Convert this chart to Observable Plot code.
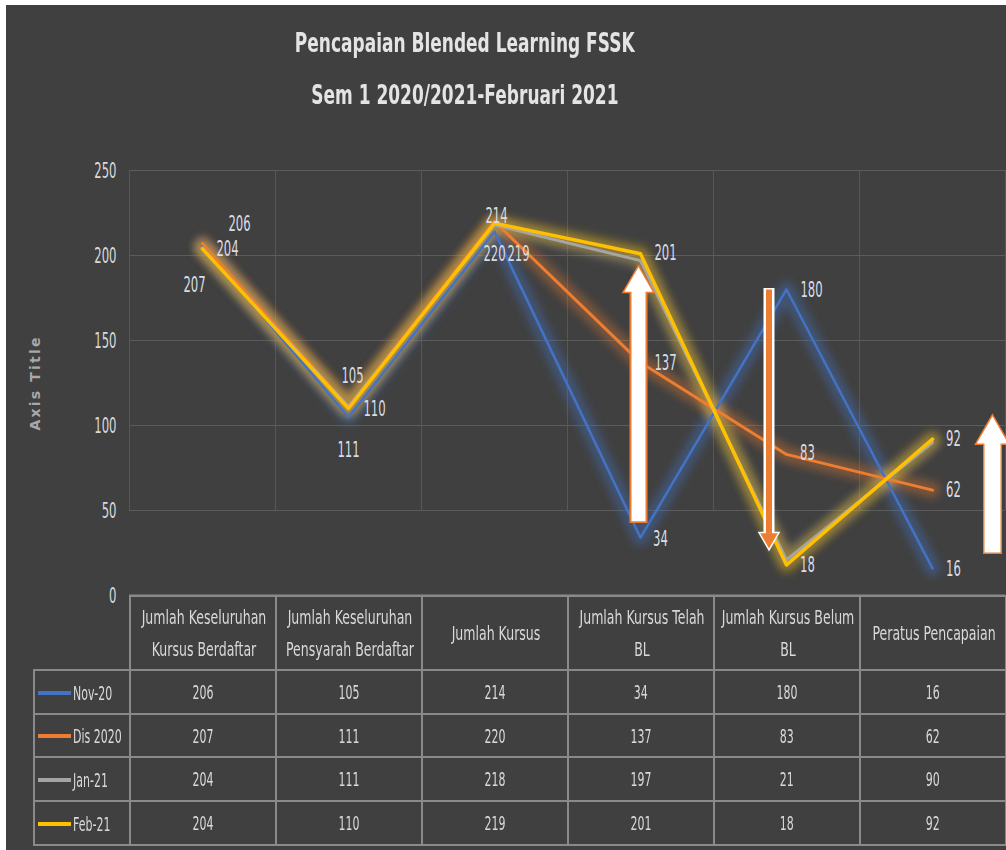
<!DOCTYPE html>
<html><head><meta charset="utf-8">
<script src="https://cdn.jsdelivr.net/npm/d3@7"></script>
<script src="https://cdn.jsdelivr.net/npm/@observablehq/plot@0.6"></script>
<style>
body{margin:0;background:#fff;}
#wrap{position:relative;width:1006px;height:850px;background:#fff;overflow:hidden;}
#bg{position:absolute;left:6px;top:5px;right:0;bottom:0;background:#404040;}
#title{position:absolute;left:0;top:17px;width:930px;text-align:center;color:#e4e4e4;
  font:bold 27px "DejaVu Sans",sans-serif;line-height:52px;}
#title span{display:inline-block;transform:scaleX(0.63);white-space:nowrap;}
#plot{position:absolute;left:0;top:150px;}
#tbl{position:absolute;left:33px;top:595px;border-collapse:collapse;color:#d9d9d9;
  font-family:"DejaVu Sans",sans-serif;table-layout:fixed;width:972px;}
#tbl td{border:2px solid #8a8a8a;text-align:center;padding:0;}
#tbl tr.head td{height:72px;font-size:19px;line-height:32px;}
#tbl tr.row td{height:41.7px;font-size:20px;}
#tbl td.blank{border-left:none;border-top:none;}
#tbl td.leg{text-align:left;padding:0 0 0 3px;white-space:nowrap;}
#tbl td.leg span.sw{display:inline-block;width:33px;height:4px;vertical-align:middle;margin-right:2px;}
#tbl td.leg span.lab{display:inline-block;transform:scaleX(0.55);transform-origin:left center;vertical-align:middle;}
#tbl .val{display:inline-block;transform:scaleX(0.55);white-space:nowrap;}
#tbl .hd{display:block;width:210px;margin-left:-32px;transform:scaleX(0.66);text-align:center;}
</style></head><body>
<div id="wrap"><div id="bg"></div>
<div id="title"></div>
<div id="plot"></div>
<table id="tbl"></table>
</div>
<script>
const titleLines = ["Pencapaian Blended Learning FSSK", "Sem 1 2020/2021-Februari 2021"];
const categories = ["Jumlah Keseluruhan Kursus Berdaftar", "Jumlah Keseluruhan Pensyarah Berdaftar", "Jumlah Kursus", "Jumlah Kursus Telah BL", "Jumlah Kursus Belum BL", "Peratus Pencapaian"];
const seriesNames = ["Nov-20", "Dis 2020", "Jan-21", "Feb-21"];
const seriesColors = ["#4472C4", "#ED7D31", "#A5A5A5", "#FFC000"];
const nov20 = [206, 105, 214, 34, 180, 16];
const dis2020 = [207, 111, 220, 137, 83, 62];
const jan21 = [204, 111, 218, 197, 21, 90];
const feb21 = [204, 110, 219, 201, 18, 92];
const yTicks = [0, 50, 100, 150, 200, 250];
const yAxisTitle = "Axis Title";

const seriesValues = [nov20, dis2020, jan21, feb21];
const FONT = '"DejaVu Sans",sans-serif';
const SQUEEZE = 0.53;

// label placement (series index, category index, dx, dy) – styling only
const labelOffsets = [
  [0,0,37,-21],[1,0,-8,41],[3,0,25,0],
  [0,1,4,-41],[3,1,26,0],[1,1,0,43],
  [0,2,2,-16],[1,2,0,32],[3,2,24,31],
  [3,3,25,-1],[1,3,25,0],[0,3,20,1],
  [0,4,25,0],[1,4,21,-1],[3,4,21,0],
  [3,5,21,0],[1,5,21,0],[0,5,21,1]
];

// block-arrow annotations (category index, tail value, head base value)
const arrowCat = [3, 4, 5];
const arrowTail = [42.4, 180.6, 24.1];
const arrowHeadBase = [178.2, 37, 89];
const arrowStyle = [
  {dx:-2, outer:18, inner:14, head:31, fill:"#ffffff", stroke:"#ED7D31", up:true},
  {dx:-17.5, outer:11, inner:6, head:20, fill:"#ED7D31", stroke:"#ffffff", up:false},
  {dx:60, outer:19, inner:16, head:34, fill:"#ffffff", stroke:"#ED7D31", up:true}
];

// title
d3.select("#title").selectAll("div").data(titleLines).join("div").append("span").text(d => d);

const rows = seriesValues.flatMap((vals, si) => categories.map((c, ci) => ({series: seriesNames[si], si, cat: c, ci, value: vals[ci]})));

const marks = [];
// gridlines
marks.push(Plot.ruleY(yTicks.filter(d => d > 0), {stroke: "#5c5c5c", strokeWidth: 1}));
marks.push(Plot.ruleX(categories, {x: d => d, dx: -73, y1: 50, y2: 250, stroke: "#575757", strokeWidth: 1}));
marks.push(Plot.ruleX([categories[categories.length - 1]], {x: d => d, dx: 73, y1: 50, y2: 250, stroke: "#575757", strokeWidth: 1}));
marks.push(Plot.ruleY([0], {stroke: "#8a8a8a", strokeWidth: 2}));
// glows
const glowOpacity = [0.4, 0.35, 0.3, 0.35];
seriesNames.forEach((s, si) => {
  marks.push(Plot.line(rows.filter(d => d.si === si), {x: "cat", y: "value", stroke: seriesColors[si], strokeWidth: 16, strokeOpacity: glowOpacity[si], strokeLinejoin: "round"}));
});
// lines
const lineWidths = [2.5, 3, 3, 3.5];
seriesNames.forEach((s, si) => {
  marks.push(Plot.line(rows.filter(d => d.si === si), {x: "cat", y: "value", stroke: seriesColors[si], strokeWidth: lineWidths[si]}));
});
// arrows
arrowCat.forEach((ci, i) => {
  const st = arrowStyle[i];
  const d = [{cat: categories[ci], tail: arrowTail[i], base: arrowHeadBase[i]}];
  const half = st.head / (2 * Math.sqrt(3));
  marks.push(Plot.ruleX(d, {x: "cat", y1: "tail", y2: "base", dx: st.dx, stroke: st.stroke, strokeWidth: st.outer}));
  marks.push(Plot.dot(d, {x: "cat", y: "base", dx: st.dx, dy: st.up ? -half : half, symbol: "triangle", r: st.head * 0.3713, rotate: st.up ? 0 : 180, fill: st.fill, stroke: st.stroke, strokeWidth: 1.5}));
  marks.push(Plot.ruleX(d, {x: "cat", y1: "tail", y2: "base", dx: st.dx, dy: st.up ? -1.6 : 1.6, stroke: st.fill, strokeWidth: st.inner}));
});
// data labels
labelOffsets.forEach(([si, ci, dx, dy]) => {
  const d = [{cat: categories[ci], value: seriesValues[si][ci]}];
  marks.push(Plot.text(d, {x: "cat", y: "value", text: d => String(d.value), dx, dy, fill: "#d9dde3", fontSize: 22, textAnchor: "middle"}));
});
// axes
marks.push(Plot.axisY({ticks: yTicks, tickSize: 0, tickPadding: 13, fontSize: 22, fill: "#d9d9d9"}));
marks.push(Plot.text([yAxisTitle], {frameAnchor: "left", textAnchor: "middle", dx: -94, rotate: -90, fontWeight: "bold", fontSize: 14, fill: "#a8a8a8", text: d => d}));

const chart = Plot.plot({
  width: 1006, height: 450,
  marginLeft: 129, marginRight: 1, marginTop: 20, marginBottom: 5,
  style: {background: "transparent", color: "#d9d9d9", fontFamily: FONT, fontSize: "22px", overflow: "visible"},
  x: {type: "point", domain: categories, padding: 0.5, axis: null},
  y: {domain: [0, 250], axis: null},
  marks
});
document.getElementById("plot").appendChild(chart);
// blur the glow layers
const lineGroups = chart.querySelectorAll('g[aria-label="line"]');
for (let i = 0; i < 4 && i < lineGroups.length; i++) lineGroups[i].style.filter = "blur(4.5px)";
// narrow the chart text horizontally (condensed look)
chart.querySelectorAll("text").forEach(t => {
  if (t.textContent === yAxisTitle) { t.style.letterSpacing = "2.2px"; return; }
  const tr = t.getAttribute("transform");
  if (tr) {
    if (/rotate/.test(tr)) return;
    t.setAttribute("transform", tr + ` scale(${SQUEEZE},1)`);
  } else {
    const x = +t.getAttribute("x") || 0, y = +t.getAttribute("y") || 0;
    t.setAttribute("transform", `translate(${x},${y}) scale(${SQUEEZE},1) translate(${-x},${-y})`);
  }
});

// data table
const tbl = d3.select("#tbl");
const cg = tbl.append("colgroup");
cg.append("col").style("width", "96px");
categories.forEach(() => cg.append("col").style("width", "146px"));
const head = tbl.append("tr").attr("class", "head");
head.append("td").attr("class", "blank");
categories.forEach(c => head.append("td").append("div").attr("class", "hd").text(c));
seriesNames.forEach((s, si) => {
  const tr = tbl.append("tr").attr("class", "row");
  const leg = tr.append("td").attr("class", "leg");
  leg.append("span").attr("class", "sw").style("background", seriesColors[si]);
  leg.append("span").attr("class", "lab").text(s);
  seriesValues[si].forEach(v => tr.append("td").append("span").attr("class", "val").text(v));
});
</script>
</body></html>
